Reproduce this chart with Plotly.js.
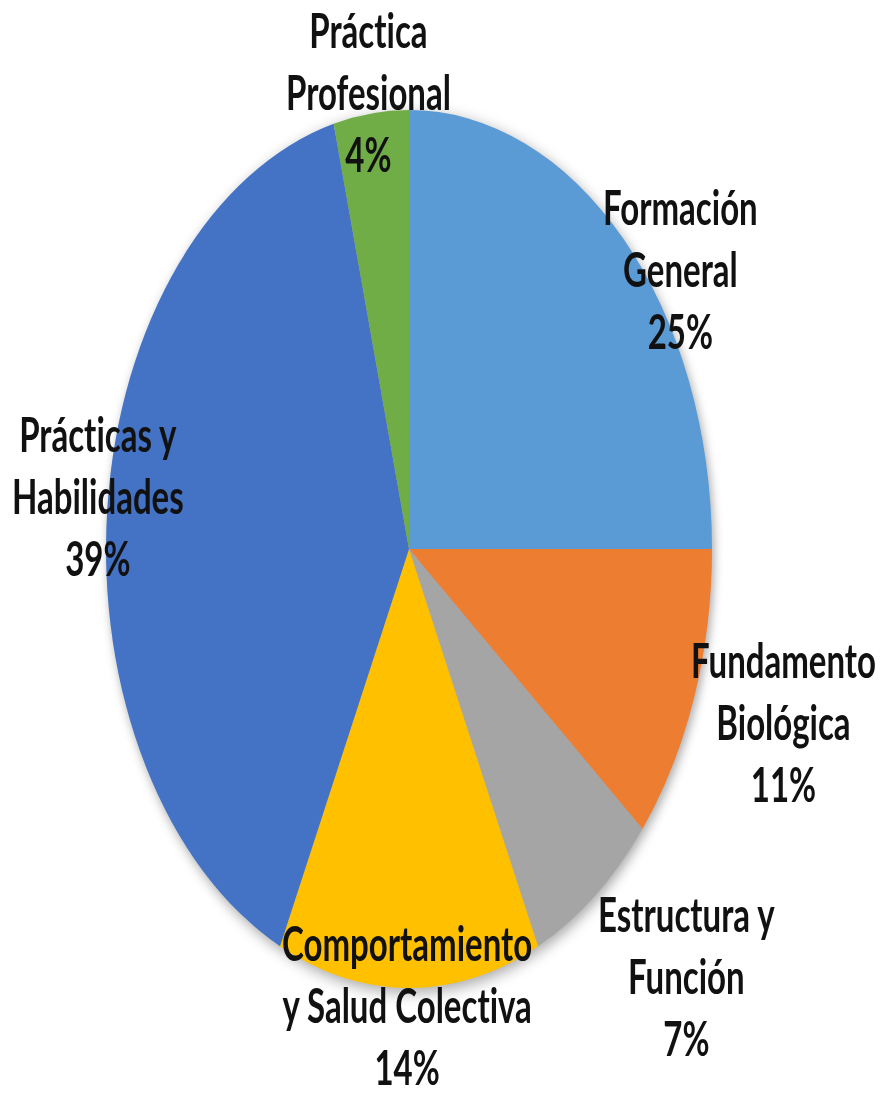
<!DOCTYPE html>
<html>
<head>
<meta charset="utf-8">
<script src="https://cdn.plot.ly/plotly-3.0.1.min.js"></script>
<style>
  html, body { margin: 0; padding: 0; background: #ffffff; overflow: hidden; }
  #wrap { width: 882px; height: 1100px; overflow: hidden; }
  #chart { width: 882px; height: 759px; transform: scaleY(1.449); transform-origin: 0 0; }
  #chart .pielayer { filter: drop-shadow(2px 3px 5px rgba(0,0,0,0.35)); }
  #chart text { font-variant-ligatures: none; font-feature-settings: "liga" 0, "clig" 0; }
</style>
</head>
<body>
<div id="wrap"><div id="chart"></div></div>
<script>
// Data
const labelLines = [
  ["Formación", "General"],
  ["Fundamento", "Biológica"],
  ["Estructura y", "Función"],
  ["Comportamiento", "y Salud Colectiva"],
  ["Prácticas y", "Habilidades"],
  ["Práctica", "Profesional"]
];
const categories = [
  "Formación General",
  "Fundamento Biológica",
  "Estructura y Función",
  "Comportamiento y Salud Colectiva",
  "Prácticas y Habilidades",
  "Práctica Profesional"
];
const values = [25, 11, 7, 14, 39, 4];
const colors = ["#5B9BD5", "#ED7D31", "#A5A5A5", "#FFC000", "#4472C4", "#70AD47"];

// Label placement styling (radius factor and angular shift per label)
const labelRadius = [1.10, 1.296, 1.333, 1.038, 1.034, 1.05];
const labelShiftDeg = [9.4, -2.1, -5.5, 0.4, 1.4, -0.2];

const W = 882, H = 759;
const cx = 409, cy = 378.9, R = 303;   // px (unscaled layout coords)

const total = values.reduce((a, b) => a + b, 0);
const annotations = [];
let cum = 0;
values.forEach((v, i) => {
  const mid = (cum + v / 2) / total * 360 + labelShiftDeg[i];
  cum += v;
  const th = mid * Math.PI / 180;
  const px = cx + labelRadius[i] * R * Math.sin(th);
  const pyUp = (H - cy) + labelRadius[i] * R * Math.cos(th);
  const pct = Math.round(v / total * 100) + "%";
  annotations.push({
    xref: "paper", yref: "paper",
    x: px / W, y: pyUp / H,
    xanchor: "center", yanchor: "middle",
    showarrow: false,
    align: "center",
    text: labelLines[i].join("<br>") + "<br>" + pct,
    font: { family: "Lato, 'Open Sans', sans-serif", size: 33, color: "#111111", weight: "bold" }
  });
});

const trace = {
  type: "pie",
  labels: categories,
  values: values,
  sort: false,
  direction: "clockwise",
  rotation: 0,
  textinfo: "none",
  hoverinfo: "none",
  marker: { colors: colors, line: { width: 0 } },
  domain: { x: [(cx - R) / W, (cx + R) / W], y: [(H - cy - R) / H, (H - cy + R) / H] }
};

const layout = {
  width: W, height: H,
  margin: { l: 0, r: 0, t: 0, b: 0 },
  showlegend: false,
  paper_bgcolor: "#ffffff",
  annotations: annotations
};

Plotly.newPlot("chart", [trace], layout, { displayModeBar: false, staticPlot: true });
</script>
</body>
</html>
